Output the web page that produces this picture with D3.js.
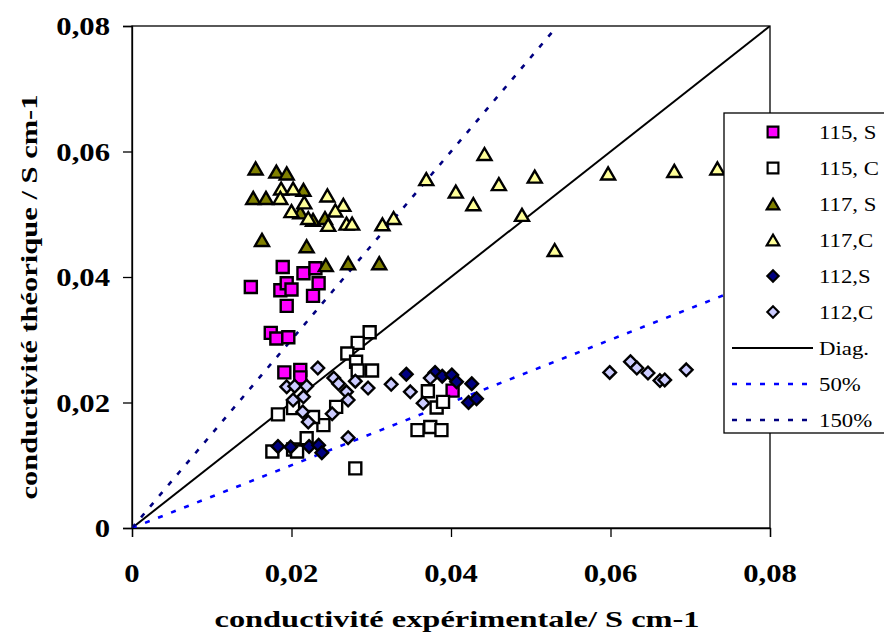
<!DOCTYPE html>
<html>
<head>
<meta charset="utf-8">
<script src="https://cdn.jsdelivr.net/npm/d3@7/dist/d3.min.js"></script>
<style>
  body { margin: 0; background: #fff; }
  svg { display: block; }
  text { font-family: "Liberation Serif", "Times New Roman", serif; fill: #000; }
</style>
</head>
<body>
<svg id="chart" width="884" height="634"></svg>
<script>
const s115S = [[0.0149,0.0384],[0.0189,0.0416],[0.0215,0.0406],[0.0230,0.0414],[0.0186,0.0379],[0.0194,0.0390],
  [0.0200,0.0380],[0.0234,0.0390],[0.0227,0.0370],[0.0194,0.0354],[0.0174,0.0311],[0.0181,0.0302],[0.0196,0.0304],
  [0.0191,0.0248],[0.0211,0.0252],[0.0211,0.0240],[0.0402,0.0219]];
const s115C = [[0.0298,0.0312],[0.0283,0.0295],[0.0270,0.0278],[0.0281,0.0265],[0.0283,0.0251],[0.0301,0.0251],
  [0.0183,0.0181],[0.0256,0.0193],[0.0240,0.0164],[0.0219,0.0143],[0.0227,0.0177],[0.0176,0.0122],[0.0202,0.0125],
  [0.0207,0.0122],[0.0202,0.0191],[0.0371,0.0218],[0.0382,0.0192],[0.0390,0.0201],[0.0358,0.0156],[0.0374,0.0161],
  [0.0388,0.0156],[0.0280,0.0095]];
const s117S = [[0.0155,0.0573],[0.0181,0.0568],[0.0194,0.0565],[0.0152,0.0526],[0.0168,0.0526],[0.0215,0.0539],
  [0.0211,0.0503],[0.0227,0.0491],[0.0242,0.0494],[0.0163,0.0459],[0.0219,0.0449],[0.0243,0.0419],[0.0271,0.0422],
  [0.0310,0.0422]];
const s117C = [[0.0187,0.0541],[0.0202,0.0541],[0.0186,0.0526],[0.0216,0.0519],[0.0200,0.0505],[0.0221,0.0494],
  [0.0245,0.0530],[0.0265,0.0515],[0.0255,0.0506],[0.0246,0.0483],[0.0269,0.0485],[0.0276,0.0485],[0.0314,0.0484],
  [0.0328,0.0494],[0.0369,0.0556],[0.0406,0.0536],[0.0428,0.0516],[0.0442,0.0596],[0.0460,0.0548],[0.0505,0.0560],
  [0.0489,0.0499],[0.0530,0.0443],[0.0597,0.0565],[0.0680,0.0569],[0.0734,0.0573]];
const s112S = [[0.0183,0.0130],[0.0199,0.0129],[0.0222,0.0130],[0.0234,0.0132],[0.0238,0.0120],[0.0344,0.0245],
  [0.0380,0.0248],[0.0389,0.0242],[0.0401,0.0244],[0.0407,0.0233],[0.0426,0.0230],[0.0422,0.0200],[0.0432,0.0206]];
const s112C = [[0.0194,0.0225],[0.0204,0.0226],[0.0219,0.0226],[0.0202,0.0204],[0.0215,0.0209],[0.0214,0.0185],
  [0.0221,0.0169],[0.0233,0.0255],[0.0253,0.0239],[0.0259,0.0230],[0.0269,0.0217],[0.0271,0.0204],[0.0251,0.0182],
  [0.0280,0.0234],[0.0296,0.0223],[0.0271,0.0144],[0.0325,0.0229],[0.0349,0.0217],[0.0365,0.0199],[0.0374,0.0239],
  [0.0599,0.0248],[0.0625,0.0265],[0.0633,0.0255],[0.0647,0.0247],[0.0662,0.0235],[0.0668,0.0236],[0.0695,0.0252]];

const xTicks = [0, 0.02, 0.04, 0.06, 0.08];
const yTicks = [0, 0.02, 0.04, 0.06, 0.08];
const refSlopes = [1, 0.5, 1.5];
const refNames = ['Diag.', '50%', '150%'];

var svg = d3.select('#chart');

var x = d3.scaleLinear().domain([0, 0.08]).range([132, 770]);
var y = d3.scaleLinear().domain([0, 0.08]).range([528, 26]);

var fmt = function(d) { return d === 0 ? '0' : d3.format('.2f')(d).replace('.', ','); };

// marker shapes
var shapes = {
  square: 'M-6,-6H6V6H-6Z',
  triangle: 'M0,-6L7,6H-7Z',
  diamond: 'M0,-6.3L6.3,0L0,6.3L-6.3,0Z'
};

var series = [
  { name: '115, S', data: s115S, shape: 'square', fill: '#ff00ff' },
  { name: '115, C', data: s115C, shape: 'square', fill: '#ffffff' },
  { name: '117, S', data: s117S, shape: 'triangle', fill: '#808000' },
  { name: '117,C', data: s117C, shape: 'triangle', fill: '#ffff99' },
  { name: '112,S', data: s112S, shape: 'diamond', fill: '#000080' },
  { name: '112,C', data: s112C, shape: 'diamond', fill: '#ccccff' }
];

var refStyle = [
  { stroke: '#000', width: 2, dash: null },
  { stroke: '#0000ff', width: 2.6, dash: '5,9' },
  { stroke: '#000080', width: 2.6, dash: '5,9' }
];

//plot border
svg.append('rect')
  .attr('x', x(0)).attr('y', y(0.08))
  .attr('width', x(0.08) - x(0)).attr('height', y(0) - y(0.08))
  .attr('fill', 'none').attr('stroke', '#000').attr('stroke-width', 1.3);

// axes
var xAxis = svg.append('g')
  .attr('transform', 'translate(0,' + y(0) + ')')
  .call(d3.axisBottom(x).tickValues(xTicks).tickSize(9).tickFormat(''));
var yAxis = svg.append('g')
  .attr('transform', 'translate(' + x(0) + ',0)')
  .call(d3.axisLeft(y).tickValues(yTicks).tickSize(9).tickFormat(''));
[xAxis, yAxis].forEach(function(g) {
  g.select('.domain').attr('stroke', '#000').attr('stroke-width', 1.3);
  g.selectAll('.tick line').attr('stroke', '#000').attr('stroke-width', 1.3);
});

// tick labels, slightly wide like the original font
svg.selectAll('text.xtick')
  .data(xTicks).enter().append('text')
  .attr('class', 'xtick')
  .attr('text-anchor', 'middle')
  .attr('font-size', 26).attr('font-weight', 'bold')
  .attr('transform', function(d) { return 'translate(' + x(d) + ',582) scale(1.18,1)'; })
  .text(fmt);

svg.selectAll('text.ytick')
  .data(yTicks).enter().append('text')
  .attr('class', 'ytick')
  .attr('text-anchor', 'end')
  .attr('font-size', 26).attr('font-weight', 'bold')
  .attr('transform', function(d) { return 'translate(110,' + (y(d) + 9) + ') scale(1.18,1)'; })
  .text(fmt);

// axis titles
svg.append('text')
  .attr('x', 457).attr('y', 627)
  .attr('text-anchor', 'middle')
  .attr('font-size', 23).attr('font-weight', 'bold')
  .attr('textLength', 485).attr('lengthAdjust', 'spacingAndGlyphs')
  .text('conductivité expérimentale/ S cm-1');

svg.append('text')
  .attr('transform', 'translate(37,297) rotate(-90)')
  .attr('text-anchor', 'middle')
  .attr('font-size', 23).attr('font-weight', 'bold')
  .attr('textLength', 405).attr('lengthAdjust', 'spacingAndGlyphs')
  .text('conductivité théorique / S cm-1');

// reference lines
svg.append('clipPath').attr('id', 'plotClip')
  .append('rect')
  .attr('x', x(0)).attr('y', y(0.08))
  .attr('width', x(0.08) - x(0)).attr('height', y(0) - y(0.08));

svg.append('g').attr('clip-path', 'url(#plotClip)')
  .selectAll('line')
  .data(refSlopes).enter().append('line')
  .attr('x1', x(0)).attr('y1', y(0))
  .attr('x2', function(k) { return x(Math.min(0.08, 0.08 / k)); })
  .attr('y2', function(k) { return y(Math.min(0.08, 0.08 / k) * k); })
  .attr('stroke', function(k, i) { return refStyle[i].stroke; })
  .attr('stroke-width', function(k, i) { return refStyle[i].width; })
  .attr('stroke-dasharray', function(k, i) { return refStyle[i].dash; });

// markers
series.forEach(function(s) {
  svg.append('g')
    .selectAll('path')
    .data(s.data).enter().append('path')
    .attr('d', shapes[s.shape])
    .attr('transform', function(d) { return 'translate(' + x(d[0]) + ',' + y(d[1]) + ')'; })
    .attr('fill', s.fill)
    .attr('stroke', '#000')
    .attr('stroke-width', 2.4);
});

// legend
var legend = svg.append('g');
legend.append('rect')
  .attr('x', 724).attr('y', 113)
  .attr('width', 170).attr('height', 320)
  .attr('fill', '#fff').attr('stroke', '#000').attr('stroke-width', 1.3);

var rowY = function(i) { return 132 + i * 36; };

series.forEach(function(s, i) {
  legend.append('path')
    .attr('d', shapes[s.shape])
    .attr('transform', 'translate(773,' + rowY(i) + ') scale(0.9)')
    .attr('fill', s.fill).attr('stroke', '#000').attr('stroke-width', 2.4);
});
refNames.forEach(function(n, i) {
  legend.append('line')
    .attr('x1', 732).attr('x2', 813)
    .attr('y1', rowY(i + 6)).attr('y2', rowY(i + 6))
    .attr('stroke', refStyle[i].stroke)
    .attr('stroke-width', refStyle[i].width)
    .attr('stroke-dasharray', refStyle[i].dash);
});

var legendNames = series.map(function(s) { return s.name; }).concat(refNames);
legend.selectAll('text')
  .data(legendNames).enter().append('text')
  .attr('font-size', 19)
  .attr('transform', function(d, i) { return 'translate(819,' + (rowY(i) + 6.5) + ') scale(1.2,1)'; })
  .text(function(d) { return d; });
</script>
</body>
</html>
